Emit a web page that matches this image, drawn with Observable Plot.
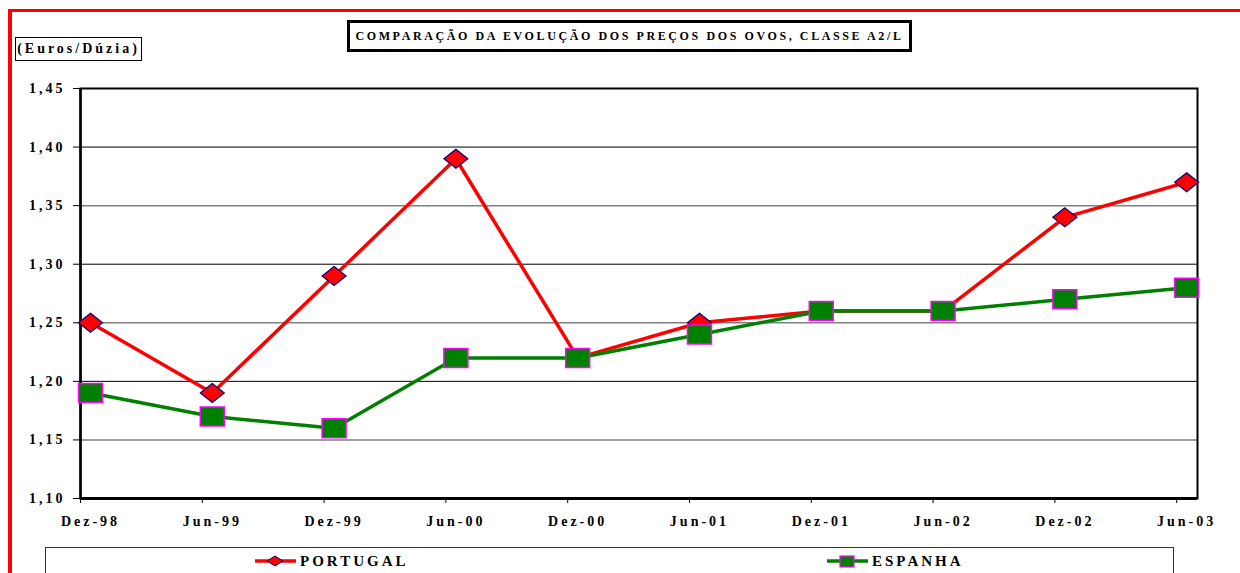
<!DOCTYPE html>
<html>
<head>
<meta charset="utf-8">
<script src="https://cdn.jsdelivr.net/npm/d3@7"></script>
<script src="https://cdn.jsdelivr.net/npm/@observablehq/plot@0.6"></script>
<style>
  html, body { margin: 0; padding: 0; background: #fff; }
  body { width: 1240px; height: 573px; position: relative; overflow: hidden; font-family: "Liberation Serif", "Times New Roman", serif; font-weight: bold; }
  #chart { position: absolute; left: 0; top: 0; }
  .redtop { position: absolute; left: 8px; top: 9px; width: 1232px; height: 3px; background: #ff0000; }
  .redleft { position: absolute; left: 8px; top: 9px; width: 4px; height: 564px; background: #ff0000; }
  .title { position: absolute; left: 347px; top: 20px; width: 559px; height: 26px; border: 3px solid #000; font-size: 12px; letter-spacing: 2.6px; line-height: 26px; text-align: center; white-space: nowrap; }
  .unit { position: absolute; left: 15px; top: 37px; width: 125px; height: 22px; border: 1px solid #000; font-size: 14px; letter-spacing: 3px; line-height: 22px; text-align: center; white-space: nowrap; }
  .legend { position: absolute; left: 45px; top: 547px; width: 1127px; height: 40px; border: 1px solid #333; }
  .li { position: absolute; top: 3px; height: 20px; display: flex; align-items: center; font-size: 15px; letter-spacing: 3px; white-space: nowrap; }
  .li svg { margin-right: 4px; }
</style>
</head>
<body>
<div id="chart"></div>
<div class="redtop"></div>
<div class="redleft"></div>
<div class="title" id="title"></div>
<div class="unit" id="unit"></div>
<div class="legend" id="legend"></div>
<script>
// ---- data ----
const categories = ["Dez-98", "Jun-99", "Dez-99", "Jun-00", "Dez-00", "Jun-01", "Dez-01", "Jun-02", "Dez-02", "Jun-03"];
const portugal = [1.25, 1.19, 1.29, 1.39, 1.22, 1.25, 1.26, 1.26, 1.34, 1.37];
const espanha  = [1.19, 1.17, 1.16, 1.22, 1.22, 1.24, 1.26, 1.26, 1.27, 1.28];
const yTicks = [1.10, 1.15, 1.20, 1.25, 1.30, 1.35, 1.40, 1.45];
const seriesNames = ["PORTUGAL", "ESPANHA"];
const titleText = "COMPARAÇÃO DA EVOLUÇÃO DOS PREÇOS DOS OVOS, CLASSE A2/L";
const unitText = "(Euros/Dúzia)";

// ---- build ----
const idx = categories.map((c, i) => i);
const ptRows = idx.map(i => ({i, v: portugal[i]}));
const esRows = idx.map(i => ({i, v: espanha[i]}));
const off = 0.082; // category tick boundary offset
const tickPos = idx.map(i => i - off);

const diamondSym = { draw(ctx) { const w = 12, h = 9.5; ctx.moveTo(0, -h); ctx.lineTo(w, 0); ctx.lineTo(0, h); ctx.lineTo(-w, 0); ctx.closePath(); } };
const squareSym = { draw(ctx) { const w = 12, h = 9.5; ctx.rect(-w, -h, 2 * w, 2 * h); } };

const fmt = d => d.toFixed(2).replace(".", ",");
const isMajor = d => Math.abs(Math.round(d * 100) % 10) < 1e-6;

const chart = Plot.plot({
  width: 1240,
  height: 573,
  marginTop: 88,
  marginBottom: 75,
  marginLeft: 80,
  marginRight: 43,
  x: { domain: [-off, 9.089] },
  y: { domain: [1.10, 1.45] },
  style: { fontFamily: "'Liberation Serif', 'Times New Roman', serif", fontSize: "14px", fontWeight: "bold", letterSpacing: "3px", color: "#000", background: "transparent", overflow: "visible" },
  marks: [
    Plot.ruleY(yTicks.filter(d => d > 1.10 && d < 1.45), { stroke: d => isMajor(d) ? "#000" : "#808080", strokeWidth: d => isMajor(d) ? 1 : 1.5 }),
    Plot.frame({ stroke: "#000", strokeWidth: 2 }),
    Plot.ruleX([-off], { stroke: "#000", strokeWidth: 2.5 }),
    Plot.ruleY([1.10], { stroke: "#000", strokeWidth: 3 }),
    Plot.axisY(yTicks, { tickSize: 7, tickPadding: 8, tickFormat: fmt, label: null, stroke: "#000" }),
    Plot.axisX(tickPos, { tickSize: 5, tickFormat: () => "", label: null }),
    Plot.axisX(idx, { tickSize: 0, tickPadding: 18, tickFormat: i => categories[i], label: null }),
    Plot.line(ptRows, { x: "i", y: "v", stroke: "#ff0000", strokeWidth: 3.5 }),
    Plot.dot(ptRows, { x: "i", y: "v", symbol: diamondSym, fill: "#ff0000", stroke: "#000080", strokeWidth: 1.2 }),
    Plot.line(esRows, { x: "i", y: "v", stroke: "#008000", strokeWidth: 3.5 }),
    Plot.dot(esRows, { x: "i", y: "v", symbol: squareSym, fill: "#008000", stroke: "#ff00ff", strokeWidth: 1.5 })
  ]
});
document.getElementById("chart").appendChild(chart);

document.getElementById("title").textContent = titleText;
document.getElementById("unit").textContent = unitText;

const legend = document.getElementById("legend");
const items = [
  { name: seriesNames[0], left: 209, line: "#ff0000", mark: `<polygon points="20,2 28,7 20,12 12,7" fill="#ff0000" stroke="#000080" stroke-width="1"/>` },
  { name: seriesNames[1], left: 781, line: "#008000", mark: `<rect x="13" y="2" width="14" height="11" fill="#008000" stroke="#ff00ff" stroke-width="1.2"/>` }
];
items.forEach(it => {
  const d = document.createElement("div");
  d.className = "li";
  d.style.left = it.left + "px";
  d.innerHTML = `<svg width="41" height="15"><line x1="0" y1="7" x2="41" y2="7" stroke="${it.line}" stroke-width="3.5"/>${it.mark}</svg><span>${it.name}</span>`;
  legend.appendChild(d);
});
</script>
</body>
</html>
